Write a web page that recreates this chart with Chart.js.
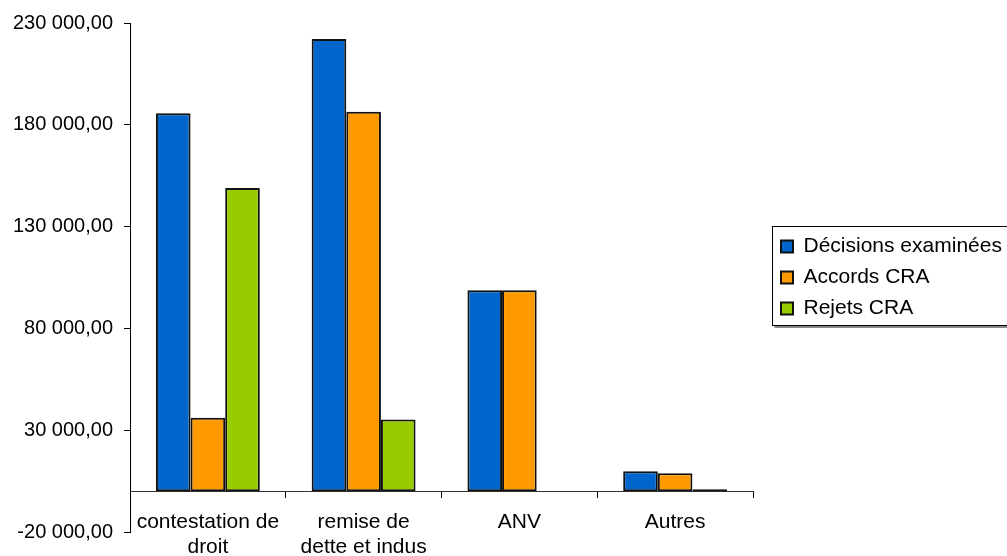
<!DOCTYPE html>
<html><head><meta charset="utf-8">
<script src="https://cdn.jsdelivr.net/npm/chart.js@4.4.1/dist/chart.umd.min.js"></script>
<style>html,body{margin:0;padding:0;background:#fff;overflow:hidden;} #wrap{width:1007px;height:556px;position:relative;}</style>
</head><body><div id="wrap"><canvas id="c"></canvas></div>
<script>
const categories = [['contestation de', 'droit'], ['remise de', 'dette et indus'], 'ANV', 'Autres'];
const seriesNames = ['Décisions examinées', 'Accords CRA', 'Rejets CRA'];
const decisionsExaminees = [185700, 222100, 98700, 9800];
const accordsCRA = [36100, 186400, 98700, 8900];
const rejetsCRA = [149000, 35300, null, 1000];
const yTickValues = [-20000, 30000, 80000, 130000, 180000, 230000];
const yTickLabels = ['-20 000,00', '30 000,00', '80 000,00', '130 000,00', '180 000,00', '230 000,00'];
const seriesColors = ['#0066CC', '#FF9900', '#99CC00'];

const FONT = '"Liberation Sans", Arial, sans-serif';
Chart.defaults.color = '#000';
Chart.defaults.font.family = FONT;

const legendFrame = {
  id: 'legendFrame',
  afterLayout(chart) {
    const lg = chart.legend;
    lg.left += 18; lg.right += 18;
  },
  afterDraw(chart) {
    const lg = chart.legend;
    const hb = lg.legendHitBoxes;
    if (!hb || !hb.length) return;
    const first = hb[0], last = hb[hb.length - 1];
    const ctx = chart.ctx;
    const l = Math.round(lg.left) + 1.5;
    const t = Math.round(first.top) - 9.5;
    const b = Math.round(last.top + last.height) + 6.5;
    const r = chart.width + 5;
    ctx.save();
    ctx.strokeStyle = '#888';
    ctx.lineWidth = 2;
    ctx.beginPath();
    ctx.moveTo(l + 2, b + 1.5); ctx.lineTo(r, b + 1.5);
    ctx.stroke();
    ctx.strokeStyle = '#000';
    ctx.lineWidth = 1;
    ctx.strokeRect(l, t, r - l, b - t);
    ctx.restore();
  }
};

new Chart(document.getElementById('c'), {
  type: 'bar',
  data: {
    labels: categories,
    datasets: [
      { label: seriesNames[0], data: decisionsExaminees, backgroundColor: seriesColors[0] },
      { label: seriesNames[1], data: accordsCRA, backgroundColor: seriesColors[1] },
      { label: seriesNames[2], data: rejetsCRA, backgroundColor: seriesColors[2] }
    ]
  },
  options: {
    responsive: true,
    maintainAspectRatio: false,
    animation: false,
    layout: { padding: { left: 0, top: 23, bottom: 24, right: 14 } },
    datasets: {
      bar: { categoryPercentage: 0.667, barPercentage: 1.0, borderColor: '#111', borderWidth: 2, borderSkipped: false }
    },
    plugins: {
      tooltip: { enabled: false },
      legend: {
        position: 'right',
        maxWidth: 240,
        labels: {
          boxWidth: 12, boxHeight: 12, padding: 10,
          font: { size: 21, family: FONT }, color: '#000'
        }
      }
    },
    scales: {
      x: {
        position: { y: 0 },
        offset: true,
        grid: { offset: true, drawOnChartArea: false, drawTicks: true, tickLength: 6, color: '#000', lineWidth: 1 },
        border: { display: true, color: '#333', width: 1 },
        ticks: { font: { size: 21, family: FONT }, color: '#000', padding: 12, maxRotation: 0, autoSkip: false }
      },
      y: {
        min: -20000,
        max: 230000,
        afterFit(scale) { scale.width = 130; },
        afterBuildTicks(scale) { scale.ticks = yTickValues.map(v => ({ value: v })); },
        grid: { drawOnChartArea: false, drawTicks: true, tickLength: 6, color: '#000', lineWidth: 1 },
        border: { display: true, color: '#000', width: 1 },
        ticks: {
          font: { size: 20, family: FONT }, color: '#000', padding: 11,
          callback(value) { const i = yTickValues.indexOf(value); return i >= 0 ? yTickLabels[i] : ''; }
        }
      }
    }
  },
  plugins: [legendFrame]
});
</script>
</body></html>
